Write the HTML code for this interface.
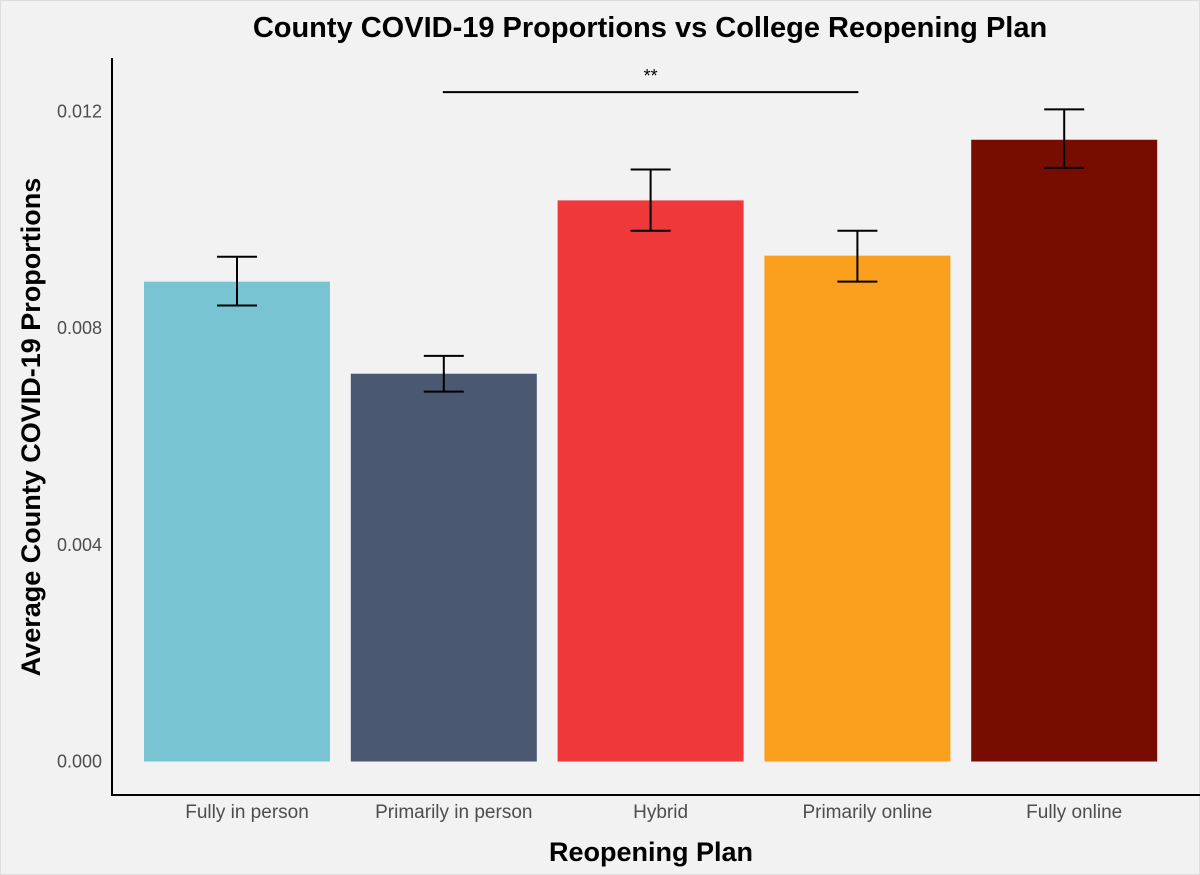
<!DOCTYPE html>
<html><head><meta charset="utf-8"><style>
body{margin:0;background:#f2f2f2;}
svg{display:block;font-family:"Liberation Sans",Arial,sans-serif;}
</style></head><body>
<svg id="chart" width="1200" height="875" viewBox="0 0 1200 875">
<rect x="0" y="0" width="1200" height="875" fill="#f2f2f2" stroke="#dddddd" stroke-width="2"/>
<text x="650" y="37" text-anchor="middle" font-size="29" font-weight="bold" fill="#000">County COVID-19 Proportions vs College Reopening Plan</text>
<text transform="translate(40,427) rotate(-90)" text-anchor="middle" font-size="27" font-weight="bold" fill="#000">Average County COVID-19 Proportions</text>
<text x="651" y="861" text-anchor="middle" font-size="27" font-weight="bold" fill="#000">Reopening Plan</text>
<g id="plot"></g>
</svg>
<script>
const categories=["Fully in person","Primarily in person","Hybrid","Primarily online","Fully online"];
const values=[0.00886,0.00716,0.01036,0.00934,0.01148];
const upper=[0.00932,0.00749,0.01093,0.00980,0.01204];
const lower=[0.00842,0.00683,0.00980,0.00886,0.01096];
const colors=["#78c4d2","#4a5872","#ee3839","#fb9f1e","#770c00"];
const yTicks=[0,0.004,0.008,0.012];
const yTickLabels=["0.000","0.004","0.008","0.012"];
const sigPair=[1,3];
const sigLabel="**";
const sigValue=0.01236;

const NS="http://www.w3.org/2000/svg";
const g=document.getElementById('plot');
const x0=112,bandW=206.8,barW=186;
const y=v=>761.5-v*54160;
const xc=i=>x0+32+bandW*i+barW/2;
function mk(t,a){const e=document.createElementNS(NS,t);for(const k in a)e.setAttribute(k,a[k]);g.appendChild(e);return e;}
yTicks.forEach((t,i)=>{
 const e=mk('text',{x:102,y:y(t)+6,'text-anchor':'end','font-size':18,fill:'#4d4d4d'});
 
 
 e.textContent=yTickLabels[i];
});
categories.forEach((c,i)=>{
 const b=mk('rect',{x:xc(i)-barW/2,y:y(values[i]),width:barW,height:y(0)-y(values[i]),fill:colors[i]});
 
 
 const eb=mk('path',{d:`M${xc(i)-20},${y(upper[i])}H${xc(i)+20}M${xc(i)},${y(upper[i])}V${y(lower[i])}M${xc(i)-20},${y(lower[i])}H${xc(i)+20}`,stroke:'#000','stroke-width':2,fill:'none'});
 
 
 const t=mk('text',{x:xc(i)+10,y:818,'text-anchor':'middle','font-size':19,fill:'#4d4d4d'});
 
 
 t.textContent=c;
});
const ax=mk('path',{d:'M112,58V795H1200',stroke:'#000','stroke-width':2,fill:'none'});


const sl=mk('line',{x1:xc(sigPair[0])-1,x2:xc(sigPair[1])+1,y1:y(sigValue),y2:y(sigValue),stroke:'#000','stroke-width':2});


const st=mk('text',{x:(xc(sigPair[0])+xc(sigPair[1]))/2,y:y(sigValue)-10,'text-anchor':'middle','font-size':18,fill:'#000'});


st.textContent=sigLabel;
</script>
</body></html>
